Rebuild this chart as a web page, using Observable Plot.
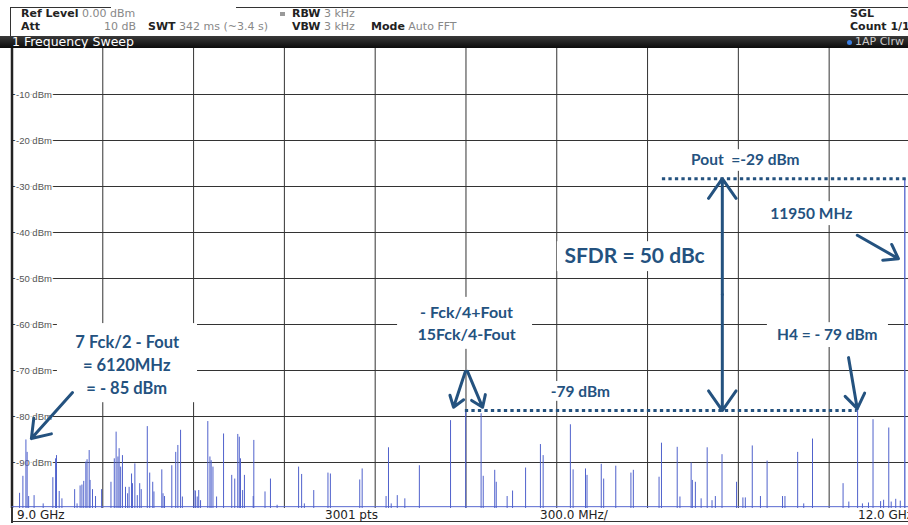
<!DOCTYPE html>
<html><head><meta charset="utf-8">
<script src="https://cdn.jsdelivr.net/npm/d3@7"></script>
<script src="https://cdn.jsdelivr.net/npm/@observablehq/plot@0.6"></script>
<style>
body{margin:0;background:#fff;}
#wrap{position:relative;width:908px;height:525px;overflow:hidden;font-family:"DejaVu Sans",Verdana,sans-serif;background:#fff;}
.h{position:absolute;font-size:11px;line-height:12px;color:#888;white-space:nowrap;}
.h b{color:#222;font-weight:bold;}
.ln{position:absolute;background:#333;}
#bar{position:absolute;left:0;top:36px;width:908px;height:12px;background:linear-gradient(#3a3a3a,#0c0c0c);color:#fff;font-size:12.5px;line-height:12px;}
#plot{position:absolute;left:0;top:48px;}
.f{position:absolute;top:508px;font-size:12px;line-height:14px;color:#222;white-space:nowrap;}
</style></head>
<body>
<div id="wrap">
  <div class="ln" style="left:10px;top:7px;width:101px;height:1px"></div>
  <div class="ln" style="left:236px;top:7px;width:672px;height:1px"></div>
  <div class="ln" style="left:10px;top:7px;width:1px;height:29px"></div>
  <div class="h" style="left:21px;top:8px"><b>Ref Level</b> 0.00 dBm</div>
  <div class="h" style="left:21px;top:21px"><b>Att</b></div>
  <div class="h" style="left:104px;top:21px">10 dB</div>
  <div class="h" style="left:148px;top:21px"><b>SWT</b> 342 ms (~3.4 s)</div>
  <div style="position:absolute;left:280px;top:12px;width:5px;height:4px;background:#999"></div>
  <div class="h" style="left:292px;top:8px"><b>RBW</b> 3 kHz</div>
  <div class="h" style="left:292px;top:21px"><b>VBW</b> 3 kHz</div>
  <div class="h" style="left:371px;top:21px"><b>Mode</b> Auto FFT</div>
  <div class="h" style="left:850px;top:8px"><b>SGL</b></div>
  <div class="h" style="left:850px;top:21px"><b>Count 1/1</b></div>
  <div id="bar"><span style="position:absolute;left:12px;top:0">1 Frequency Sweep</span>
    <span style="position:absolute;left:847px;top:4px;width:5px;height:5px;border-radius:3px;background:#3b7ee0"></span>
    <span style="position:absolute;left:855px;top:0;color:#ccc;font-size:11px">1AP Clrw</span></div>
  <div id="plot"></div>
  <div class="ln" style="left:11px;top:508px;width:2px;height:15px"></div>
  <div class="ln" style="left:11px;top:521px;width:897px;height:1px"></div>
  <div class="f" style="left:17px">9.0 GHz</div>
  <div class="f" style="left:325px">3001 pts</div>
  <div class="f" style="left:540px">300.0 MHz/</div>
  <div class="f" style="left:858px">12.0 GHz</div>
</div>
<script>
// ---- data ----
const spurFreqMHz = [9025,9036,9046,9050,9055,9073,9103,9135,9144,9147,9156,9165,9207,9215,9225,9231,9237,9244,9248,9255,9258,9266,9276,9296,
  9327,9338,9344,9350,9354,9359,9365,9375,9382,9387,9395,9398,9406,9414,9422,9427,9447,9455,9465,9469,9495,9499,9504,9528,9541,9548,9557,9563,
  9601,9606,9612,9617,9623,9647,9654,9658,9664,9676,9699,9726,9736,9746,9751,9755,9762,9768,9797,9799,9836,9854,9876,9947,9957,9966,9997,
  10044,10052,10149,10157,10236,10244,10253,10273,10298,10346,10449,10499,10550,10557,10595,10600,10636,10654,10697,10746,10755,10845,10854,
  10895,10900,10947,10955,10995,11045,11053,11138,11146,11198,11207,11244,11248,11258,11277,11297,11313,11324,11346,11394,11415,11423,11446,
  11473,11495,11546,11554,11596,11616,11645,11746,11765,11794,11810,11830,11845,11870,11880,11897,11905,11920,11935];
const spurLevelDbm = [-96.7,-93.0,-85.1,-87.8,-97.4,-97.2,-99.0,-93.3,-89.2,-88.5,-96.3,-97.9,-95.9,-99.0,-95.1,-94.9,-94.1,-89.9,-89.4,-87.4,-93.9,-95.9,-97.4,-95.9,
  -94.3,-89.2,-83.4,-88.8,-87.0,-91.0,-88.5,-95.4,-96.8,-95.4,-92.5,-94.6,-90.3,-97.2,-94.6,-95.9,-82.2,-92.3,-94.3,-96.4,-91.6,-96.8,-97.4,-90.7,-87.8,-86.3,-83.0,-97.5,
  -96.1,-96.2,-97.5,-96.1,-98.3,-81.1,-88.8,-89.6,-91.0,-97.5,-83.8,-92.8,-93.6,-83.9,-84.5,-89.2,-96.1,-92.8,-97.4,-85.2,-96.4,-93.6,-99.3,-91.0,-92.6,-99.0,-96.1,
  -92.3,-92.5,-93.8,-91.4,-97.4,-86.8,-99.0,-97.2,-97.9,-90.7,-80.9,-78.9,-79.4,-93.0,-91.7,-94.3,-97.4,-96.2,-91.2,-86.1,-88.5,-81.8,-91.6,
  -91.4,-92.8,-90.4,-93.6,-90.8,-92.3,-91.7,-93.2,-85.8,-86.7,-97.5,-90.1,-93.9,-94.3,-97.9,-86.8,-98.3,-97.4,-88.3,-94.3,-97.7,-97.7,-86.4,
  -97.4,-89.7,-97.4,-97.4,-87.8,-99.0,-84.9,-94.6,-98.6,-78.3,-99.0,-98.8,-80.7,-98.5,-98.2,-82.5,-98.6,-98.0,-98.4];
const carrierFreqMHz = [11950];
const carrierLevelDbm = [-28.3];
const noiseFloorDbm = [-99.6];
const yTickValues = [-10,-20,-30,-40,-50,-60,-70,-80,-90];
const yTickLabels = ["-10 dBm","-20 dBm","-30 dBm","-40 dBm","-50 dBm","-60 dBm","-70 dBm","-80 dBm","-90 dBm"];
const xGridMHz = [9300,9600,9900,10200,10500,10800,11100,11400,11700];
const xDomainMHz = [9000, 11962.2];

// annotations (data units: MHz, dBm)
const labelText = ["7 Fck/2 - Fout","= 6120MHz","= - 85 dBm","- Fck/4+Fout","15Fck/4-Fout","-79 dBm","SFDR = 50 dBc","Pout  =-29 dBm","11950 MHz","H4 = - 79 dBm"];
const labelX    = [9381,9379,9379,10502,10502,10878,11057,11423,11641,11694];
const labelY    = [-63.9,-68.9,-73.9,-57.4,-62.2,-74.6,-45.2,-24.3,-35.9,-62.2];
const labelSize = [16.5,16.5,16.5,16,16,15.5,21,15.5,15.5,15.5];
const boxX1 = [9150,10274,10753,10802,11202,11480,11496];
const boxX2 = [9613,10720,11004,11311,11638,11803,11896];
const boxY1 = [-59.8,-54.1,-72.4,-42.0,-22.0,-33.3,-59.6];
const boxY2 = [-77.0,-65.4,-76.7,-48.5,-26.7,-38.5,-65.0];
const arrowX1 = [9200,10498,10505,11764,11793,11347,11347];
const arrowY1 = [-74.8,-70.2,-70.2,-67.2,-40.6,-53.5,-53.5];
const arrowX2 = [9064,10459,10555,11793,11929,11347,11347];
const arrowY2 = [-84.8,-78.0,-78.0,-78.3,-45.7,-28.3,-78.7];
const dottedY  = [-28.3,-78.7];
const dottedX1 = [11149,10498];
const dottedX2 = [11962.2,11793];

const ink = "#24527f";
const spurs = spurFreqMHz.map((f,i)=>({f, level: spurLevelDbm[i]}));
const carrier = carrierFreqMHz.map((f,i)=>({f, level: carrierLevelDbm[i]}));
const ticks = yTickValues.map((v,i)=>({v, label: yTickLabels[i]}));
const labels = labelText.map((t,i)=>({t, x: labelX[i], y: labelY[i], s: labelSize[i]}));
const boxes = boxX1.map((d,i)=>({x1: d, x2: boxX2[i], y1: boxY1[i], y2: boxY2[i]}));
const arrows = arrowX1.map((d,i)=>({x1: d, y1: arrowY1[i], x2: arrowX2[i], y2: arrowY2[i]}));
const dotted = dottedY.map((y,i)=>({y, x1: dottedX1[i], x2: dottedX2[i]}));

const chart = Plot.plot({
  width: 908, height: 462,
  marginLeft: 11.5, marginRight: 0, marginTop: 0, marginBottom: 2,
  x: {domain: xDomainMHz, axis: null},
  y: {domain: [-100, 0], axis: null},
  style: {background: "transparent", overflow: "visible"},
  marks: [
    Plot.ruleY(yTickValues, {stroke: "#333", strokeWidth: 1}),
    Plot.ruleX(xGridMHz, {stroke: "#333", strokeWidth: 1}),
    Plot.ruleX([xDomainMHz[0]], {stroke: "#222", strokeWidth: 2.5}),
    Plot.text(ticks, {frameAnchor: "left", y: "v", text: "label", dx: 4, textAnchor: "start", fontSize: 9.5, fill: "#555",
      stroke: "white", strokeWidth: 3, fontFamily: "Liberation Sans, Arial, sans-serif"}),
    Plot.ruleY(noiseFloorDbm, {stroke: "#5a6ad0", strokeWidth: 1}),
    Plot.ruleX(spurs, {x: "f", y1: -100, y2: "level", stroke: "#5062cc", strokeWidth: 1}),
    Plot.ruleX(carrier, {x: "f", y1: -100, y2: "level", stroke: "#5062cc", strokeWidth: 1.3}),
    Plot.rect(boxes, {x1: "x1", x2: "x2", y1: "y1", y2: "y2", fill: "white"}),
    Plot.ruleY(dotted, {y: "y", x1: "x1", x2: "x2", stroke: ink, strokeWidth: 3, strokeDasharray: "3.3,3.2"}),
    Plot.arrow(arrows, {x1: "x1", y1: "y1", x2: "x2", y2: "y2", stroke: ink, strokeWidth: 3, headLength: 12, headAngle: 70}),
    Plot.text(labels, {x: "x", y: "y", text: "t", fontSize: d => d.s, fontWeight: "bold", fill: ink,
      fontFamily: "Lato, 'Open Sans', sans-serif"})
  ]
});
document.getElementById("plot").appendChild(chart);
</script>
</body></html>
